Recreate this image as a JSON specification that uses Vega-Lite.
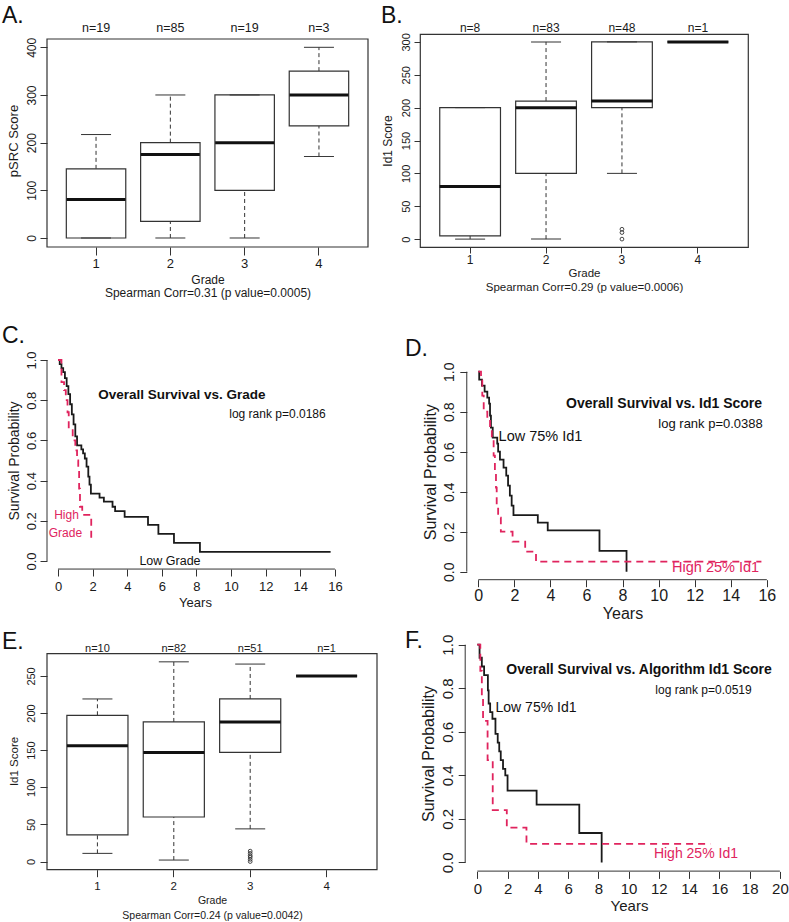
{
"$schema":"https://vega.github.io/schema/vega-lite/v6.json",
"background":"white",
"padding":{"left":47,"top":34,"right":742,"bottom":888},
"autosize":{"type":"none"},
"columns":2,"align":"each","bounds":"flush","spacing":{"row":60,"column":43},
"config":{"font":"Liberation Sans","view":{"stroke":"#333","strokeWidth":1.2},
 "axis":{"grid":false,"labelColor":"#1a1a1a","titleColor":"#1a1a1a","tickColor":"#333","titleFontWeight":"normal","labelFlush":false,"labelOverlap":false},
 "title":{"color":"#111","fontWeight":"normal","fontSize":23,"anchor":"start","frame":"group","baseline":"alphabetic","offset":0}},
"concat":[
 {"title":{"text":"A.","dx":-45,"dy":10},
  "width":321,"height":213,"view":{"stroke":null},
  "resolve":{"scale":{"x":"independent"}},
  "layer":[
   {"data":{"values":[
     {"grade":"1","lo":0,"q1":0,"med":81,"q3":145,"hi":217,"label":"n=19"},
     {"grade":"2","lo":0,"q1":35,"med":175,"q3":200,"hi":300,"label":"n=85"},
     {"grade":"3","lo":0,"q1":100,"med":200,"q3":300,"hi":300,"label":"n=19"},
     {"grade":"4","lo":171,"q1":235,"med":300,"q3":350,"hi":400,"label":"n=3"}]},
    "encoding":{"x":{"field":"grade","type":"ordinal","scale":{"paddingInner":0.2,"paddingOuter":0.26},
      "axis":{"labelAngle":0,"domain":false,"tickSize":8,"labelPadding":2,"labelFontSize":13,"bandPosition":0.5,"labelOverlap":false,
       "title":["Grade","Spearman Corr=0.31 (p value=0.0005)"],"titleFontSize":12,"titleLineHeight":13.5,"titlePadding":4}}},
    "layer":[
     {"mark":{"type":"rule","strokeDash":[4,3],"color":"#333"},"encoding":{"y":{"field":"lo","type":"quantitative","scale":{"domain":[-18.9,427.9],"nice":false,"zero":false},
       "axis":{"values":[0,100,200,300,400],"tickCount":20,"domain":false,"tickSize":7,"labelAngle":-90,"labelAlign":"center","labelBaseline":"bottom","labelPadding":2,"labelFontSize":12,"labelOverlap":false,"title":"pSRC Score","titleFontSize":13,"titlePadding":5}},"y2":{"field":"q1"}}},
     {"mark":{"type":"rule","strokeDash":[4,3],"color":"#333"},"encoding":{"y":{"field":"q3","type":"quantitative","scale":{"domain":[-18.9,427.9],"nice":false,"zero":false}},"y2":{"field":"hi"}}},
     {"mark":{"type":"rect","fill":"white","stroke":"#333","strokeWidth":1.2},"encoding":{"y":{"field":"q1","type":"quantitative","scale":{"domain":[-18.9,427.9],"nice":false,"zero":false}},"y2":{"field":"q3"}}},
     {"mark":{"type":"tick","color":"#333","size":30,"thickness":1,"opacity":1},"encoding":{"y":{"field":"lo","type":"quantitative","scale":{"domain":[-18.9,427.9],"nice":false,"zero":false}}}},
     {"mark":{"type":"tick","color":"#333","size":30,"thickness":1,"opacity":1},"encoding":{"y":{"field":"hi","type":"quantitative","scale":{"domain":[-18.9,427.9],"nice":false,"zero":false}}}},
     {"mark":{"type":"tick","color":"#111","size":59,"thickness":3,"opacity":1},"encoding":{"y":{"field":"med","type":"quantitative","scale":{"domain":[-18.9,427.9],"nice":false,"zero":false}}}},
     {"mark":{"type":"text","fontSize":12.5,"baseline":"middle","color":"#1a1a1a"},"encoding":{"y":{"datum":440.5,"type":"quantitative","scale":{"domain":[-18.9,427.9],"nice":false,"zero":false}},"text":{"field":"label"}}}
    ]},
   {"data":{"values":[{}]},"mark":{"type":"rect","fill":"white","fillOpacity":0,"stroke":"#333","strokeWidth":1.2},
    "encoding":{"x":{"datum":0,"type":"quantitative","scale":{"domain":[0,1],"nice":false,"zero":false},"axis":null},"x2":{"datum":1},
     "y":{"datum":-18.9,"type":"quantitative","scale":{"domain":[-18.9,427.9],"nice":false,"zero":false}},"y2":{"datum":417.4}}}
  ]},
 {"title":{"text":"B.","dx":-39,"dy":10},
  "width":328,"height":213,
  "encoding":{"x":{"field":"grade","type":"ordinal","scale":{"paddingInner":0.2,"paddingOuter":0.26},
    "axis":{"labelAngle":0,"domain":false,"tickSize":6,"labelPadding":1,"labelFontSize":12,"bandPosition":0.5,"labelOverlap":false,
     "title":["Grade","Spearman Corr=0.29 (p value=0.0006)"],"titleFontSize":11.5,"titleLineHeight":14,"titlePadding":2}}},
  "layer":[
   {"data":{"values":[
    {"grade":"1","lo":0,"q1":5,"med":80,"q3":200,"hi":200,"label":"n=8"},
    {"grade":"2","lo":0,"q1":100,"med":200,"q3":210,"hi":300,"label":"n=83"},
    {"grade":"3","lo":100,"q1":200,"med":210,"q3":300,"hi":300,"label":"n=48"},
    {"grade":"4","lo":300,"q1":300,"med":300,"q3":300,"hi":300,"label":"n=1"}]},
    "layer":[
    {"mark":{"type":"rule","strokeDash":[4,3],"color":"#333"},"encoding":{"y":{"field":"lo","type":"quantitative","scale":{"domain":[-12,312],"nice":false,"zero":false},
      "axis":{"values":[0,50,100,150,200,250,300],"tickCount":20,"domain":false,"tickSize":6,"labelAngle":-90,"labelAlign":"center","labelBaseline":"bottom","labelPadding":3,"labelFontSize":11,"labelOverlap":false,"title":"Id1 Score","titleFontSize":12,"titlePadding":6}},"y2":{"field":"q1"}}},
    {"mark":{"type":"rule","strokeDash":[4,3],"color":"#333"},"encoding":{"y":{"field":"q3","type":"quantitative","scale":{"domain":[-12,312],"nice":false,"zero":false}},"y2":{"field":"hi"}}},
    {"mark":{"type":"rect","fill":"white","stroke":"#333","strokeWidth":1.2},"encoding":{"y":{"field":"q1","type":"quantitative","scale":{"domain":[-12,312],"nice":false,"zero":false}},"y2":{"field":"q3"}}},
    {"mark":{"type":"tick","color":"#333","size":30,"thickness":1,"opacity":1},"encoding":{"y":{"field":"lo","type":"quantitative","scale":{"domain":[-12,312],"nice":false,"zero":false}}}},
    {"mark":{"type":"tick","color":"#333","size":30,"thickness":1,"opacity":1},"encoding":{"y":{"field":"hi","type":"quantitative","scale":{"domain":[-12,312],"nice":false,"zero":false}}}},
    {"mark":{"type":"tick","color":"#111","size":61,"thickness":3,"opacity":1},"encoding":{"y":{"field":"med","type":"quantitative","scale":{"domain":[-12,312],"nice":false,"zero":false}}}},
    {"mark":{"type":"text","fontSize":12,"baseline":"middle","color":"#1a1a1a"},"encoding":{"y":{"datum":321,"type":"quantitative","scale":{"domain":[-12,312],"nice":false,"zero":false}},"text":{"field":"label"}}}
    ]},
   {"data":{"values":[{"grade":"3","v":0},{"grade":"3","v":10},{"grade":"3","v":15}]},
    "mark":{"type":"point","shape":"circle","filled":false,"size":14,"strokeWidth":0.9,"color":"#333","opacity":1},
    "encoding":{"y":{"field":"v","type":"quantitative","scale":{"domain":[-12,312],"nice":false,"zero":false}}}}
  ]},
 {"title":{"text":"C.","dx":-45,"dy":45},
  "width":321,"height":268.3,"view":{"stroke":null},
  "layer":[
   {"data":{"values":[{}]},"mark":{"type":"rule","color":"#333"},"encoding":{"x":{"datum":0,"type":"quantitative","scale":{"domain":[-0.6355,17.91],"nice":false,"zero":false}},"x2":{"datum":16},"y":{"datum":-0.04,"type":"quantitative","scale":{"domain":[-0.0711,1.2637],"nice":false,"zero":false}}}},
   {"data":{"values":[{}]},"mark":{"type":"rule","color":"#333"},"encoding":{"x":{"datum":-0.6355,"type":"quantitative","scale":{"domain":[-0.6355,17.91],"nice":false,"zero":false}},"y":{"datum":0,"type":"quantitative","scale":{"domain":[-0.0711,1.2637],"nice":false,"zero":false}},"y2":{"datum":1}}},
   {"data":{"values":[
    {"t":0,"s":1,"g":"low"},{"t":0.1,"s":0.98,"g":"low"},{"t":0.2,"s":0.96,"g":"low"},{"t":0.3,"s":0.94,"g":"low"},{"t":0.4,"s":0.91,"g":"low"},{"t":0.5,"s":0.87,"g":"low"},{"t":0.6,"s":0.83,"g":"low"},{"t":0.7,"s":0.78,"g":"low"},{"t":0.8,"s":0.73,"g":"low"},{"t":0.9,"s":0.68,"g":"low"},{"t":1.0,"s":0.62,"g":"low"},{"t":1.1,"s":0.575,"g":"low"},{"t":1.35,"s":0.555,"g":"low"},{"t":1.45,"s":0.535,"g":"low"},{"t":1.55,"s":0.51,"g":"low"},{"t":1.65,"s":0.47,"g":"low"},{"t":1.75,"s":0.42,"g":"low"},{"t":1.82,"s":0.38,"g":"low"},{"t":1.9,"s":0.335,"g":"low"},{"t":2.4,"s":0.315,"g":"low"},{"t":2.65,"s":0.295,"g":"low"},{"t":3.15,"s":0.27,"g":"low"},{"t":3.3,"s":0.248,"g":"low"},{"t":3.85,"s":0.22,"g":"low"},{"t":5.2,"s":0.18,"g":"low"},{"t":5.8,"s":0.135,"g":"low"},{"t":6.7,"s":0.09,"g":"low"},{"t":8.2,"s":0.045,"g":"low"},{"t":15.75,"s":0.045,"g":"low"},
    {"t":0,"s":1,"g":"high"},{"t":0.2,"s":0.89,"g":"high"},{"t":0.35,"s":0.85,"g":"high"},{"t":0.45,"s":0.8,"g":"high"},{"t":0.55,"s":0.74,"g":"high"},{"t":0.62,"s":0.66,"g":"high"},{"t":0.85,"s":0.6,"g":"high"},{"t":1.0,"s":0.55,"g":"high"},{"t":1.1,"s":0.5,"g":"high"},{"t":1.17,"s":0.45,"g":"high"},{"t":1.22,"s":0.36,"g":"high"},{"t":1.27,"s":0.27,"g":"high"},{"t":1.4,"s":0.23,"g":"high"},{"t":1.92,"s":0.115,"g":"high"},{"t":2.2,"s":0.115,"g":"high"}]},
    "mark":{"type":"line","interpolate":"step-after","strokeWidth":1.8},
    "encoding":{
     "x":{"field":"t","type":"quantitative","scale":{"domain":[-0.6355,17.91],"nice":false,"zero":false},"axis":{"offset":-6.3,"values":[0,2,4,6,8,10,12,14,16],"tickCount":20,"domain":false,"tickSize":7,"labelPadding":4,"labelFontSize":13,"labelOverlap":false,"title":"Years","titleFontSize":13,"titlePadding":3,"titleX":148}},
     "y":{"field":"s","type":"quantitative","scale":{"domain":[-0.0711,1.2637],"nice":false,"zero":false},"axis":{"values":[0,0.2,0.4,0.6,0.8,1],"tickCount":20,"format":".1f","domain":false,"tickSize":7,"labelAngle":-90,"labelAlign":"center","labelBaseline":"bottom","labelPadding":2,"labelFontSize":13,"labelOverlap":false,"title":"Survival Probability","titleFontSize":14,"titlePadding":4,"titleY":153.5}},
     "color":{"field":"g","type":"nominal","scale":{"domain":["low","high"],"range":["#1a1a1a","#e0245e"]},"legend":null},
     "strokeDash":{"field":"g","type":"nominal","scale":{"domain":["low","high"],"range":[[1,0],[7,5]]},"legend":null}}},
   {"data":{"values":[{}]},"mark":{"type":"text","text":"Overall Survival vs. Grade","fontWeight":"bold","fontSize":13.5,"align":"center","baseline":"middle","color":"#111"},"encoding":{"x":{"datum":7.16,"type":"quantitative","scale":{"domain":[-0.6355,17.91],"nice":false,"zero":false}},"y":{"datum":0.826,"type":"quantitative","scale":{"domain":[-0.0711,1.2637],"nice":false,"zero":false}}}},
   {"data":{"values":[{}]},"mark":{"type":"text","text":"log rank p=0.0186","fontSize":12,"align":"center","baseline":"middle","color":"#111"},"encoding":{"x":{"datum":12.68,"type":"quantitative","scale":{"domain":[-0.6355,17.91],"nice":false,"zero":false}},"y":{"datum":0.731,"type":"quantitative","scale":{"domain":[-0.0711,1.2637],"nice":false,"zero":false}}}},
   {"data":{"values":[{}]},"mark":{"type":"text","text":"High","fontSize":12,"align":"center","baseline":"middle","color":"#e0245e"},"encoding":{"x":{"datum":0.49,"type":"quantitative","scale":{"domain":[-0.6355,17.91],"nice":false,"zero":false}},"y":{"datum":0.229,"type":"quantitative","scale":{"domain":[-0.0711,1.2637],"nice":false,"zero":false}}}},
   {"data":{"values":[{}]},"mark":{"type":"text","text":"Grade","fontSize":12,"align":"center","baseline":"middle","color":"#e0245e"},"encoding":{"x":{"datum":0.43,"type":"quantitative","scale":{"domain":[-0.6355,17.91],"nice":false,"zero":false}},"y":{"datum":0.139,"type":"quantitative","scale":{"domain":[-0.0711,1.2637],"nice":false,"zero":false}}}},
   {"data":{"values":[{}]},"mark":{"type":"text","text":"Low Grade","fontSize":12.5,"align":"center","baseline":"middle","color":"#111"},"encoding":{"x":{"datum":6.47,"type":"quantitative","scale":{"domain":[-0.6355,17.91],"nice":false,"zero":false}},"y":{"datum":0.0,"type":"quantitative","scale":{"domain":[-0.0711,1.2637],"nice":false,"zero":false}}}}
  ]},
 {"title":{"text":"D.","dx":-15,"dy":58},
  "width":358,"height":268.3,"view":{"stroke":null},
  "layer":[
   {"data":{"values":[{}]},"mark":{"type":"rule","color":"#333"},"encoding":{"x":{"datum":0,"type":"quantitative","scale":{"domain":[-3.2335,16.62],"nice":false,"zero":false}},"x2":{"datum":16},"y":{"datum":-0.04,"type":"quantitative","scale":{"domain":[-0.018,1.3235],"nice":false,"zero":false}}}},
   {"data":{"values":[{}]},"mark":{"type":"rule","color":"#333"},"encoding":{"x":{"datum":-0.64,"type":"quantitative","scale":{"domain":[-3.2335,16.62],"nice":false,"zero":false}},"y":{"datum":0,"type":"quantitative","scale":{"domain":[-0.018,1.3235],"nice":false,"zero":false}},"y2":{"datum":1}}},
   {"data":{"values":[
    {"t":0,"s":1,"g":"low"},{"t":0.05,"s":0.96,"g":"low"},{"t":0.2,"s":0.93,"g":"low"},{"t":0.35,"s":0.9,"g":"low"},{"t":0.5,"s":0.87,"g":"low"},{"t":0.6,"s":0.84,"g":"low"},{"t":0.65,"s":0.78,"g":"low"},{"t":0.7,"s":0.72,"g":"low"},{"t":0.8,"s":0.67,"g":"low"},{"t":1.05,"s":0.64,"g":"low"},{"t":1.1,"s":0.6,"g":"low"},{"t":1.2,"s":0.56,"g":"low"},{"t":1.4,"s":0.52,"g":"low"},{"t":1.55,"s":0.48,"g":"low"},{"t":1.65,"s":0.43,"g":"low"},{"t":1.75,"s":0.38,"g":"low"},{"t":1.85,"s":0.33,"g":"low"},{"t":1.95,"s":0.283,"g":"low"},{"t":3.3,"s":0.245,"g":"low"},{"t":3.85,"s":0.207,"g":"low"},{"t":6.72,"s":0.104,"g":"low"},{"t":8.22,"s":0,"g":"low"},
    {"t":0,"s":1,"g":"high"},{"t":0.15,"s":0.96,"g":"high"},{"t":0.22,"s":0.88,"g":"high"},{"t":0.3,"s":0.8,"g":"high"},{"t":0.5,"s":0.76,"g":"high"},{"t":0.65,"s":0.72,"g":"high"},{"t":0.75,"s":0.66,"g":"high"},{"t":0.85,"s":0.58,"g":"high"},{"t":0.92,"s":0.5,"g":"high"},{"t":0.98,"s":0.42,"g":"high"},{"t":1.02,"s":0.33,"g":"high"},{"t":1.1,"s":0.27,"g":"high"},{"t":1.25,"s":0.2,"g":"high"},{"t":1.9,"s":0.15,"g":"high"},{"t":2.6,"s":0.1,"g":"high"},{"t":3.2,"s":0.05,"g":"high"},{"t":15.7,"s":0.05,"g":"high"}]},
    "mark":{"type":"line","interpolate":"step-after","strokeWidth":1.8},
    "encoding":{
     "x":{"field":"t","type":"quantitative","scale":{"domain":[-3.2335,16.62],"nice":false,"zero":false},"axis":{"offset":4.4,"values":[0,2,4,6,8,10,12,14,16],"tickCount":20,"domain":false,"tickSize":7,"labelPadding":1,"labelFontSize":16,"labelOverlap":false,"title":"Years","titleFontSize":16,"titlePadding":2,"titleX":202.5}},
     "y":{"field":"s","type":"quantitative","scale":{"domain":[-0.018,1.3235],"nice":false,"zero":false},"axis":{"offset":-46.8,"values":[0,0.2,0.4,0.6,0.8,1],"tickCount":20,"format":".1f","domain":false,"tickSize":7,"labelAngle":-90,"labelAlign":"center","labelBaseline":"bottom","labelPadding":3,"labelFontSize":14,"labelOverlap":false,"title":"Survival Probability","titleFontSize":16,"titlePadding":4,"titleY":164.7}},
     "color":{"field":"g","type":"nominal","scale":{"domain":["low","high"],"range":["#1a1a1a","#e0245e"]},"legend":null},
     "strokeDash":{"field":"g","type":"nominal","scale":{"domain":["low","high"],"range":[[1,0],[7,5]]},"legend":null}}},
   {"data":{"values":[{}]},"mark":{"type":"text","text":"Overall Survival vs. Id1 Score","fontWeight":"bold","fontSize":14,"align":"center","baseline":"middle","color":"#111"},"encoding":{"x":{"datum":10.3,"type":"quantitative","scale":{"domain":[-3.2335,16.62],"nice":false,"zero":false}},"y":{"datum":0.8385,"type":"quantitative","scale":{"domain":[-0.018,1.3235],"nice":false,"zero":false}}}},
   {"data":{"values":[{}]},"mark":{"type":"text","text":"log rank p=0.0388","fontSize":13,"align":"center","baseline":"middle","color":"#111"},"encoding":{"x":{"datum":12.88,"type":"quantitative","scale":{"domain":[-3.2335,16.62],"nice":false,"zero":false}},"y":{"datum":0.7385,"type":"quantitative","scale":{"domain":[-0.018,1.3235],"nice":false,"zero":false}}}},
   {"data":{"values":[{}]},"mark":{"type":"text","text":"Low 75% Id1","fontSize":14.5,"align":"center","baseline":"middle","color":"#111"},"encoding":{"x":{"datum":3.45,"type":"quantitative","scale":{"domain":[-3.2335,16.62],"nice":false,"zero":false}},"y":{"datum":0.6735,"type":"quantitative","scale":{"domain":[-0.018,1.3235],"nice":false,"zero":false}}}},
   {"data":{"values":[{}]},"mark":{"type":"text","text":"High 25% Id1","fontSize":14.5,"align":"center","baseline":"middle","color":"#e0245e"},"encoding":{"x":{"datum":13.16,"type":"quantitative","scale":{"domain":[-3.2335,16.62],"nice":false,"zero":false}},"y":{"datum":0.0185,"type":"quantitative","scale":{"domain":[-0.018,1.3235],"nice":false,"zero":false}}}}
  ]},
 {"title":{"text":"E.","dx":-45,"dy":21.7},
  "width":330,"height":233.7,"view":{"stroke":null},
  "resolve":{"scale":{"x":"independent"}},
  "layer":[
   {"encoding":{"x":{"field":"grade","type":"ordinal","scale":{"paddingInner":0.2,"paddingOuter":0.26},
     "axis":{"labelAngle":0,"domain":false,"tickSize":7,"labelPadding":4,"labelFontSize":11.5,"bandPosition":0.5,"labelOverlap":false,
      "title":["Grade","Spearman Corr=0.24 (p value=0.0042)"],"titleFontSize":10.5,"titleLineHeight":15,"titlePadding":3}}},
    "layer":[
     {"data":{"values":[
      {"grade":"1","lo":11,"q1":36,"med":156,"q3":197,"hi":219,"label":"n=10"},
      {"grade":"2","lo":2,"q1":60,"med":147,"q3":188,"hi":269,"label":"n=82"},
      {"grade":"3","lo":44,"q1":147,"med":188,"q3":219,"hi":266,"label":"n=51"},
      {"grade":"4","lo":250,"q1":250,"med":250,"q3":250,"hi":250,"label":"n=1"}]},
      "layer":[
      {"mark":{"type":"rule","strokeDash":[4,3],"color":"#333"},"encoding":{"y":{"field":"lo","type":"quantitative","scale":{"domain":[-11,303.8],"nice":false,"zero":false},
        "axis":{"values":[0,50,100,150,200,250],"tickCount":20,"domain":false,"tickSize":7,"labelAngle":-90,"labelAlign":"center","labelBaseline":"bottom","labelPadding":4,"labelFontSize":11,"labelOverlap":false,"title":"Id1  Score","titleFontSize":11.5,"titlePadding":6,"titleY":125}},"y2":{"field":"q1"}}},
      {"mark":{"type":"rule","strokeDash":[4,3],"color":"#333"},"encoding":{"y":{"field":"q3","type":"quantitative","scale":{"domain":[-11,303.8],"nice":false,"zero":false}},"y2":{"field":"hi"}}},
      {"mark":{"type":"rect","fill":"white","stroke":"#333","strokeWidth":1.2},"encoding":{"y":{"field":"q1","type":"quantitative","scale":{"domain":[-11,303.8],"nice":false,"zero":false}},"y2":{"field":"q3"}}},
      {"mark":{"type":"tick","color":"#333","size":30,"thickness":1,"opacity":1},"encoding":{"y":{"field":"lo","type":"quantitative","scale":{"domain":[-11,303.8],"nice":false,"zero":false}}}},
      {"mark":{"type":"tick","color":"#333","size":30,"thickness":1,"opacity":1},"encoding":{"y":{"field":"hi","type":"quantitative","scale":{"domain":[-11,303.8],"nice":false,"zero":false}}}},
      {"mark":{"type":"tick","color":"#111","size":61,"thickness":3,"opacity":1},"encoding":{"y":{"field":"med","type":"quantitative","scale":{"domain":[-11,303.8],"nice":false,"zero":false}}}},
      {"mark":{"type":"text","fontSize":11,"baseline":"middle","color":"#1a1a1a"},"encoding":{"y":{"datum":286.7,"type":"quantitative","scale":{"domain":[-11,303.8],"nice":false,"zero":false}},"text":{"field":"label"}}}
      ]},
     {"data":{"values":[{"grade":"3","v":0},{"grade":"3","v":3},{"grade":"3","v":6},{"grade":"3","v":8},{"grade":"3","v":11},{"grade":"3","v":14}]},
      "mark":{"type":"point","shape":"circle","filled":false,"size":14,"strokeWidth":0.9,"color":"#333","opacity":1},
      "encoding":{"y":{"field":"v","type":"quantitative","scale":{"domain":[-11,303.8],"nice":false,"zero":false}}}}
    ]},
   {"data":{"values":[{}]},"mark":{"type":"rect","fill":"white","fillOpacity":0,"stroke":"#333","strokeWidth":1.2},
    "encoding":{"x":{"datum":0,"type":"quantitative","scale":{"domain":[0,1],"nice":false,"zero":false},"axis":null},"x2":{"datum":1},
     "y":{"datum":-11,"type":"quantitative","scale":{"domain":[-11,303.8],"nice":false,"zero":false}},"y2":{"datum":280}}}
  ]},
 {"title":{"text":"F.","dx":-15,"dy":22.4},
  "width":365,"height":251.4,"view":{"stroke":null},
  "layer":[
   {"data":{"values":[{}]},"mark":{"type":"rule","color":"#333"},"encoding":{"x":{"datum":0,"type":"quantitative","scale":{"domain":[-3.787,20.337],"nice":false,"zero":false}},"x2":{"datum":20},"y":{"datum":-0.04,"type":"quantitative","scale":{"domain":[-0.1148,1.04],"nice":false,"zero":false}}}},
   {"data":{"values":[{}]},"mark":{"type":"rule","color":"#333"},"encoding":{"x":{"datum":-0.8,"type":"quantitative","scale":{"domain":[-3.787,20.337],"nice":false,"zero":false}},"y":{"datum":0,"type":"quantitative","scale":{"domain":[-0.1148,1.04],"nice":false,"zero":false}},"y2":{"datum":1}}},
   {"data":{"values":[
    {"t":0,"s":1,"g":"low"},{"t":0.15,"s":0.94,"g":"low"},{"t":0.3,"s":0.9,"g":"low"},{"t":0.45,"s":0.86,"g":"low"},{"t":0.7,"s":0.79,"g":"low"},{"t":0.75,"s":0.73,"g":"low"},{"t":0.85,"s":0.69,"g":"low"},{"t":1.0,"s":0.66,"g":"low"},{"t":1.2,"s":0.59,"g":"low"},{"t":1.35,"s":0.55,"g":"low"},{"t":1.45,"s":0.51,"g":"low"},{"t":1.55,"s":0.47,"g":"low"},{"t":1.7,"s":0.43,"g":"low"},{"t":1.85,"s":0.4,"g":"low"},{"t":2.0,"s":0.33,"g":"low"},{"t":3.92,"s":0.265,"g":"low"},{"t":6.74,"s":0.135,"g":"low"},{"t":8.22,"s":0,"g":"low"},
    {"t":0,"s":1,"g":"high"},{"t":0.2,"s":0.88,"g":"high"},{"t":0.3,"s":0.76,"g":"high"},{"t":0.38,"s":0.65,"g":"high"},{"t":0.68,"s":0.47,"g":"high"},{"t":1.02,"s":0.24,"g":"high"},{"t":1.95,"s":0.16,"g":"high"},{"t":3.25,"s":0.085,"g":"high"},{"t":15.4,"s":0.085,"g":"high"}]},
    "mark":{"type":"line","interpolate":"step-after","strokeWidth":1.8},
    "encoding":{
     "x":{"field":"t","type":"quantitative","scale":{"domain":[-3.787,20.337],"nice":false,"zero":false},"axis":{"offset":-16,"values":[0,2,4,6,8,10,12,14,16,18,20],"tickCount":20,"domain":false,"tickSize":7,"labelPadding":3,"labelFontSize":15,"labelOverlap":false,"title":"Years","titleFontSize":15,"titlePadding":2,"titleX":209}},
     "y":{"field":"s","type":"quantitative","scale":{"domain":[-0.1148,1.04],"nice":false,"zero":false},"axis":{"offset":-45.2,"values":[0,0.2,0.4,0.6,0.8,1],"tickCount":20,"format":".1f","domain":false,"tickSize":7,"labelAngle":-90,"labelAlign":"center","labelBaseline":"bottom","labelPadding":3,"labelFontSize":15,"labelOverlap":false,"title":"Survival Probability","titleFontSize":16,"titlePadding":4,"titleY":117.5}},
     "color":{"field":"g","type":"nominal","scale":{"domain":["low","high"],"range":["#1a1a1a","#e0245e"]},"legend":null},
     "strokeDash":{"field":"g","type":"nominal","scale":{"domain":["low","high"],"range":[[1,0],[7,5]]},"legend":null}}},
   {"data":{"values":[{}]},"mark":{"type":"text","text":"Overall Survival vs. Algorithm Id1 Score","fontWeight":"bold","fontSize":14,"align":"center","baseline":"middle","color":"#111"},"encoding":{"x":{"datum":10.69,"type":"quantitative","scale":{"domain":[-3.787,20.337],"nice":false,"zero":false}},"y":{"datum":0.885,"type":"quantitative","scale":{"domain":[-0.1148,1.04],"nice":false,"zero":false}}}},
   {"data":{"values":[{}]},"mark":{"type":"text","text":"log rank p=0.0519","fontSize":12,"align":"center","baseline":"middle","color":"#111"},"encoding":{"x":{"datum":14.95,"type":"quantitative","scale":{"domain":[-3.787,20.337],"nice":false,"zero":false}},"y":{"datum":0.793,"type":"quantitative","scale":{"domain":[-0.1148,1.04],"nice":false,"zero":false}}}},
   {"data":{"values":[{}]},"mark":{"type":"text","text":"Low 75% Id1","fontSize":14,"align":"center","baseline":"middle","color":"#111"},"encoding":{"x":{"datum":3.88,"type":"quantitative","scale":{"domain":[-3.787,20.337],"nice":false,"zero":false}},"y":{"datum":0.711,"type":"quantitative","scale":{"domain":[-0.1148,1.04],"nice":false,"zero":false}}}},
   {"data":{"values":[{}]},"mark":{"type":"text","text":"High 25% Id1","fontSize":14,"align":"center","baseline":"middle","color":"#e0245e"},"encoding":{"x":{"datum":14.45,"type":"quantitative","scale":{"domain":[-3.787,20.337],"nice":false,"zero":false}},"y":{"datum":0.04,"type":"quantitative","scale":{"domain":[-0.1148,1.04],"nice":false,"zero":false}}}}
  ]}
]
}
